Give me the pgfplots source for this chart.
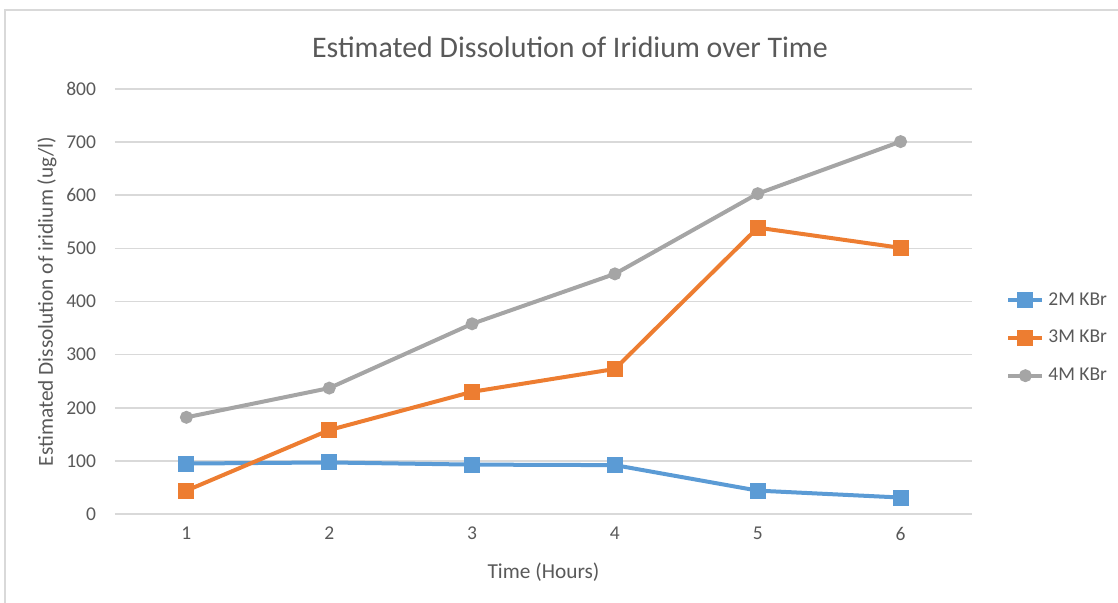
\documentclass[border=0pt]{standalone}
\usepackage{pgfplots}
\pgfplotsset{compat=1.18}
\usepackage{fontspec}
\setmainfont{Carlito}
\definecolor{cblue}{HTML}{5B9BD5}
\definecolor{corange}{HTML}{ED7D31}
\definecolor{cgray}{HTML}{A5A5A5}
\definecolor{txt}{HTML}{595959}
\definecolor{gridc}{HTML}{D9D9D9}
\begin{document}
\begin{tikzpicture}
\begin{axis}[
  at={(0,0)}, anchor=south west,
  scale only axis, width=428.5bp, height=212.5bp,
  xmin=0.5, xmax=6.5, ymin=0, ymax=800,
  xtick={1,2,3,4,5,6}, ytick={0,100,...,800},
  ymajorgrids, xmajorgrids=false, grid style={draw=gridc, line width=0.8pt},
  axis x line*=bottom, axis y line*=left,
  x axis line style={draw=gridc, line width=0.8pt, -},
  y axis line style={draw=none},
  major tick length=0pt,
  tick label style={font=\fontsize{9.8}{11}\selectfont, text=txt},
  /pgf/number format/assume math mode=true,
  xticklabel style={yshift=-3bp},
  yticklabel style={xshift=-6bp},
  xlabel={Time (Hours)}, ylabel={Estimated Dissolution of iridium (ug/l)},
  label style={font=\fontsize{10.7}{12}\selectfont, text=txt},
  xlabel style={at={(axis description cs:0.5,0)}, anchor=center, yshift=-29bp},
  ylabel style={at={(axis description cs:0,0.5)}, anchor=center, yshift=34bp},
  legend style={at={(rel axis cs:1,0.414)}, anchor=west, xshift=14bp, draw=none, fill=none,
    font=\fontsize{9.8}{11}\selectfont, text=txt, row sep=7bp},
  legend cell align=left,
  every axis plot/.append style={line width=2bp},
]
\addplot[cblue, mark=square*, mark size=3bp, mark options={solid}] coordinates {(1,95) (2,97) (3,93) (4,92) (5,44) (6,31)};
\addlegendentry{2M KBr}
\addplot[corange, mark=square*, mark size=3bp] coordinates {(1,44) (2,158) (3,230) (4,273) (5,539) (6,501)};
\addlegendentry{3M KBr}
\addplot[cgray, mark=*, mark size=2.2bp] coordinates {(1,182) (2,237) (3,358) (4,452) (5,603) (6,701)};
\addlegendentry{4M KBr}
\end{axis}
\node[font=\fontsize{15}{18}\selectfont, text=txt] at (227.5bp,233.5bp) {Estimated Dissolution of Iridium over Time};
\draw[gridc, line width=0.8pt] (-55bp,-60bp) -- (-55bp,252bp) -- (520bp,252bp);
\pgfresetboundingbox
\path (-57.5bp,-44.5bp) rectangle (501.5bp,257bp);
\end{tikzpicture}
\end{document}
